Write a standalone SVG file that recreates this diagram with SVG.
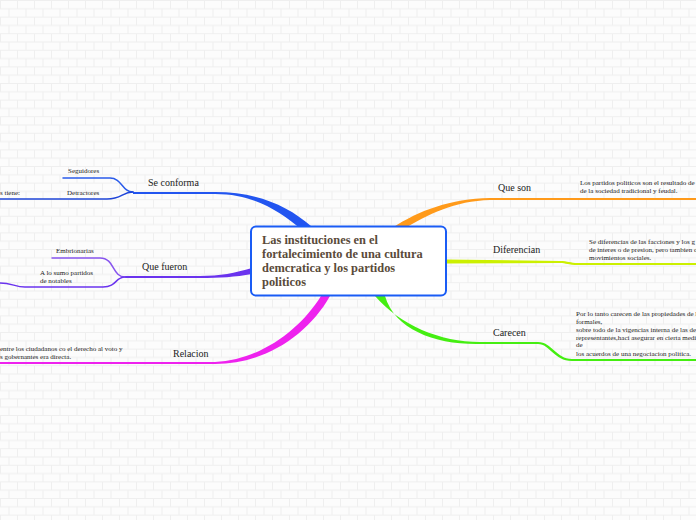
<svg xmlns="http://www.w3.org/2000/svg" width="696" height="520" viewBox="0 0 696 520">
<defs>
<pattern id="brick" x="0" y="0" width="34" height="16.6" patternUnits="userSpaceOnUse">
<rect width="34" height="16.6" fill="#fcfcfc"/>
<path d="M0,0.5 H34 M0,8.8 H34 M0.5,0 V8.3 M17.5,0 V8.3 M9,8.8 V16.6 M26,8.8 V16.6" stroke="#efefef" stroke-width="1" fill="none"/>
</pattern>
<style>
.lbl{font-family:"Liberation Serif","Times New Roman",serif;font-size:10px;fill:#222}
.sm{font-family:"Liberation Serif","Times New Roman",serif;font-size:7px;fill:#222}
.title{font-family:"Liberation Serif","Times New Roman",serif;font-size:12.4px;font-weight:bold;fill:#5a4b3a}
.sub{fill:none;stroke-width:1.5;stroke-linecap:round}
</style>
</defs>
<rect width="696" height="520" fill="url(#brick)"/>
<g id="connectors">
<path d="M133,192 L215,192 C258,192 288,206 311,226 L301,229 C280,212 255,194 215,194 L133,194 Z" fill="#2255f0"/>
<path class="sub" d="M63,178 L110,178 C122,178 122,192 133,192" stroke="#2a5bea"/>
<path class="sub" d="M0,199 L107,199 C122,199 122,192 133,192" stroke="#1f45d8"/>
<path d="M125,276 L200,276 C220,276 235,273 252,268 L252,274 C235,277 220,278 200,278 L125,278 Z" fill="#6a33ee"/>
<path class="sub" d="M52,258 L100,258 C115,258 112,277 125,277" stroke="#8855ee"/>
<path class="sub" d="M0,283 C12,283 15,287 25,287 L103,287 C117,287 115,277 125,277" stroke="#6a33ee"/>
<path d="M0,362 L215,362 C260,360 300,330 321,296 L330,296 C308,335 265,364 215,364 L0,364 Z" fill="#ee22ee"/>
<path d="M392,228 C420,210 450,199 490,198 L696,198 L696,200 L490,200 C455,201 428,214 402,230 Z" fill="#ff9a1a"/>
<path d="M446,259.5 L560,261 C568,261 570,263 578,263 L696,263 L696,265 L578,265 C568,265 566,263 560,263 L446,263.5 Z" fill="#ccf000"/>
<path d="M375,296 C400,325 440,342 480,342 L538,342 C552,342 556,359 572,359 L696,359 L696,361 L572,361 C554,361 550,344 538,344 L480,344 C436,345 395,330 385,296 Z" fill="#44ee11"/>
</g>
<g id="central">
<rect x="251" y="226.5" width="195" height="69" rx="5" fill="#ffffff" stroke="#1a5cf5" stroke-width="2"/>
<text class="title" x="262" y="244">Las instituciones en el</text>
<text class="title" x="262" y="258">fortalecimiento de una cultura</text>
<text class="title" x="262" y="272">demcratica y los partidos</text>
<text class="title" x="262" y="286">politicos</text>
</g>
<g id="se-conforma"><text class="lbl" x="148" y="186">Se conforma</text></g>
<g id="seguidores"><text class="sm" x="68" y="173">Seguidores</text></g>
<g id="detractores"><text class="sm" x="67" y="195">Detractores</text><text class="sm" x="0" y="195">s tiene:</text></g>
<g id="que-fueron"><text class="lbl" x="142" y="270">Que fueron</text></g>
<g id="embrionarias"><text class="sm" x="56" y="253">Embrionarias</text></g>
<g id="notables"><text class="sm" x="40" y="275">A lo sumo partidos</text><text class="sm" x="40" y="283">de notables</text></g>
<g id="relacion"><text class="lbl" x="173" y="357">Relacion</text></g>
<g id="relacion-text"><text class="sm" x="0" y="351">entre los ciudadanos co el derecho al voto y</text><text class="sm" x="0" y="359">s gobernantes era directa.</text></g>
<g id="que-son"><text class="lbl" x="498" y="191">Que son</text></g>
<g id="que-son-text"><text class="sm" x="580" y="185">Los partidos politicos son el resultado de</text><text class="sm" x="580" y="193">de la sociedad tradicional y feudal.</text></g>
<g id="diferencian"><text class="lbl" x="493" y="253">Diferencian</text></g>
<g id="diferencian-text"><text class="sm" x="589" y="244">Se diferencias de las facciones y los g</text><text class="sm" x="589" y="252">de interes o de presion, pero tambien d</text><text class="sm" x="589" y="260">movimientos sociales.</text></g>
<g id="carecen"><text class="lbl" x="493" y="336">Carecen</text></g>
<g id="carecen-text">
<text class="sm" x="576" y="316">Por lo tanto carecen de las propiedades de l</text>
<text class="sm" x="576" y="324">formales,</text>
<text class="sm" x="576" y="332">sobre todo de la vigencias interna de las de</text>
<text class="sm" x="576" y="340">representantes,haci asegurar en cierta medi</text>
<text class="sm" x="576" y="347">de</text>
<text class="sm" x="576" y="356">los acuerdos de una negociacion politica.</text>
</g>
</svg>
